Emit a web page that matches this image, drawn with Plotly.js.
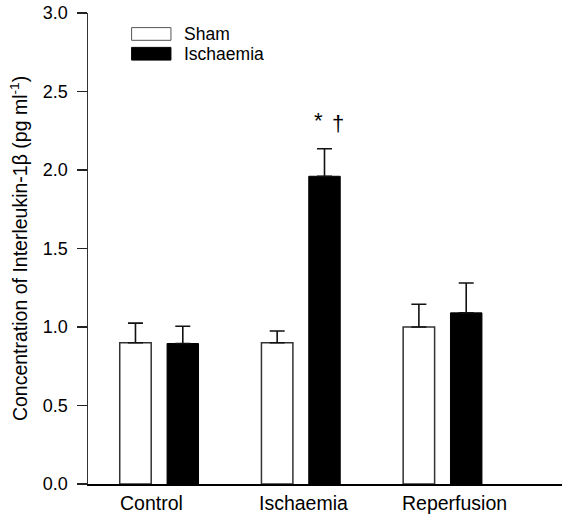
<!DOCTYPE html>
<html>
<head>
<meta charset="utf-8">
<script src="https://cdn.plot.ly/plotly-3.0.1.min.js"></script>
<style>html,body{margin:0;padding:0;background:#fff;}#chart{width:565px;height:516px;}</style>
</head>
<body>
<div id="chart"></div>
<script>
const categories = ["Control", "Ischaemia", "Reperfusion"];
const seriesNames = ["Sham", "Ischaemia"];
const shamValues = [0.90, 0.90, 1.00];
const shamErrors = [0.125, 0.075, 0.145];
const ischValues = [0.895, 1.96, 1.09];
const ischErrors = [0.11, 0.175, 0.19];
const yTickVals = [0, 0.5, 1.0, 1.5, 2.0, 2.5, 3.0];
const yTickText = ["0.0", "0.5", "1.0", "1.5", "2.0", "2.5", "3.0"];
const sigStar = "*";
const sigDagger = "\u2020";
const yTitle = "Concentration of Interleukin-1\u03b2 (pg ml<sup>-1</sup>)";

const FONT = "Liberation Sans, Arial, sans-serif";
// pixel nudges of the category labels, as in the original figure
const catLabelShift = [-8, 2.5, 12];

function errBar(err) {
  return {type: "data", symmetric: false, array: err, arrayminus: err.map(() => 0),
          color: "#111", thickness: 1.6, width: 7.5};
}

const traces = [
  {type: "bar", name: seriesNames[0], x: categories, y: shamValues,
   width: 0.222, offset: -0.279,
   marker: {color: "#ffffff", line: {color: "#333", width: 1.5}},
   error_y: errBar(shamErrors), showlegend: false, hoverinfo: "none"},
  {type: "bar", name: seriesNames[1], x: categories, y: ischValues,
   width: 0.222, offset: 0.055,
   marker: {color: "#000000", line: {color: "#000", width: 1}},
   error_y: errBar(ischErrors), showlegend: false, hoverinfo: "none"}
];

// legend drawn as shapes + annotations (wide boxes like the original)
const legendShapes = [
  {type: "rect", xref: "paper", yref: "paper", x0: 0.092, x1: 0.175, y0: 0.942, y1: 0.969,
   fillcolor: "#fff", line: {color: "#555", width: 1}},
  {type: "rect", xref: "paper", yref: "paper", x0: 0.092, x1: 0.175, y0: 0.900, y1: 0.927,
   fillcolor: "#000", line: {color: "#000", width: 1}}
];

const annotations = [
  {xref: "paper", yref: "paper", x: 0.198, y: 0.955, xanchor: "left", yanchor: "middle",
   text: seriesNames[0], showarrow: false, font: {family: FONT, size: 17.5, color: "#000"}},
  {xref: "paper", yref: "paper", x: 0.198, y: 0.913, xanchor: "left", yanchor: "middle",
   text: seriesNames[1], showarrow: false, font: {family: FONT, size: 17.5, color: "#000"}},
  {xref: "x", yref: "y", x: categories[1], y: ischValues[1] + ischErrors[1],
   xshift: 18, yshift: 14, xanchor: "center", yanchor: "bottom",
   text: sigStar, showarrow: false, font: {family: FONT, size: 22, color: "#000"}},
  {xref: "x", yref: "y", x: categories[1], y: ischValues[1] + ischErrors[1],
   xshift: 37, yshift: 11, xanchor: "center", yanchor: "bottom",
   text: sigDagger, showarrow: false, font: {family: FONT, size: 22, color: "#000"}}
];
categories.forEach((c, i) => {
  annotations.push({xref: "x", yref: "y", x: c, y: 0, xanchor: "center", yanchor: "top",
    xshift: catLabelShift[i], yshift: -6, text: c, showarrow: false,
    font: {family: FONT, size: 19.5, color: "#000"}});
});

const layout = {
  width: 565, height: 516,
  margin: {l: 88, r: 3, t: 13, b: 32, pad: 0},
  paper_bgcolor: "#fff", plot_bgcolor: "#fff",
  barmode: "overlay",
  font: {family: FONT, color: "#000"},
  xaxis: {
    type: "category", range: [-0.503, 2.842], showgrid: false, zeroline: false,
    showline: true, linecolor: "#000", linewidth: 1.5, ticks: "", showticklabels: false,
    fixedrange: true
  },
  yaxis: {
    range: [0, 3], tickmode: "array", tickvals: yTickVals, ticktext: yTickText,
    showgrid: false, zeroline: false, showline: true, linecolor: "#333", linewidth: 1.5,
    ticks: "outside", ticklen: 10, tickwidth: 1.2, tickcolor: "#222",
    ticklabelstandoff: 5,
    tickfont: {family: FONT, size: 18, color: "#000"},
    title: {text: yTitle, font: {family: FONT, size: 19.5, color: "#000"}, standoff: 10},
    automargin: false, fixedrange: true
  },
  shapes: legendShapes,
  annotations: annotations,
  showlegend: false
};

Plotly.newPlot("chart", traces, layout, {staticPlot: true, displayModeBar: false});
</script>
</body>
</html>
